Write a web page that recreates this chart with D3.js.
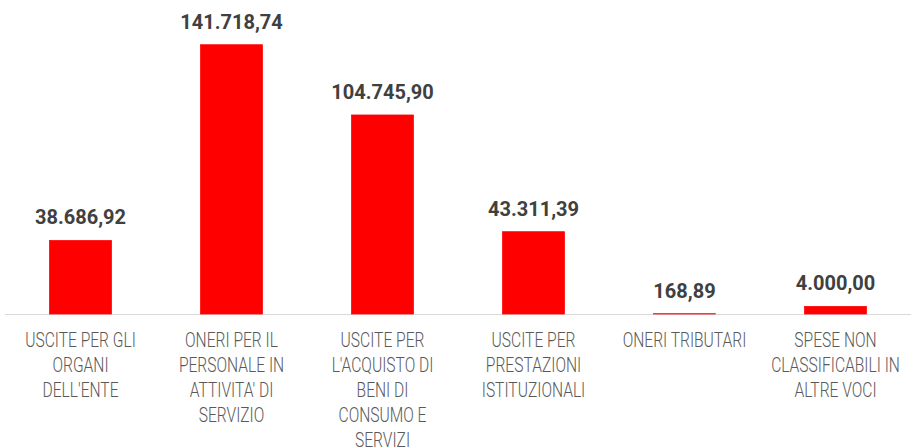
<!DOCTYPE html>
<html>
<head>
<meta charset="utf-8">
<script src="https://cdn.jsdelivr.net/npm/d3@7"></script>
<style>
  body { margin: 0; background: #fff; }
  .value { font-family: Roboto, "Noto Sans", sans-serif; font-weight: bold; font-size: 20px; fill: #404040; }
  .cat { font-family: Roboto, "Noto Sans", sans-serif; font-weight: 300; font-size: 19.5px; fill: #595959; }
</style>
</head>
<body>
<div id="chart"></div>
<script>
let width = 912;
let height = 448;

let categories = [
  "USCITE PER GLI ORGANI DELL'ENTE",
  "ONERI PER IL PERSONALE IN ATTIVITA' DI SERVIZIO",
  "USCITE PER L'ACQUISTO DI BENI DI CONSUMO E SERVIZI",
  "USCITE PER PRESTAZIONI ISTITUZIONALI",
  "ONERI TRIBUTARI",
  "SPESE NON CLASSIFICABILI IN ALTRE VOCI"
];
// category labels as they break in the original
let cat_lines = [
  ["USCITE PER GLI", "ORGANI", "DELL'ENTE"],
  ["ONERI PER IL", "PERSONALE IN", "ATTIVITA' DI", "SERVIZIO"],
  ["USCITE PER", "L'ACQUISTO DI", "BENI DI", "CONSUMO E", "SERVIZI"],
  ["USCITE PER", "PRESTAZIONI", "ISTITUZIONALI"],
  ["ONERI TRIBUTARI"],
  ["SPESE NON", "CLASSIFICABILI IN", "ALTRE VOCI"]
];
let values = [38686.92, 141718.74, 104745.90, 43311.39, 168.89, 4000.00];

let itFormat = d3.formatLocale({decimal: ",", thousands: ".", grouping: [3], currency: ["€", ""]}).format(",.2f");

let svg = d3.select("#chart").append("svg")
  .attr("width", width)
  .attr("height", height);

let x = d3.scaleBand()
  .domain(categories)
  .range([5, 911])
  .paddingInner(0.59)
  .paddingOuter(0.295);

let y = d3.scaleLinear()
  .domain([0, 160000])
  .range([314, 10]);

// baseline (under the bars)
svg.append("line")
  .attr("x1", 5).attr("x2", 911)
  .attr("y1", y(0) + 0.5).attr("y2", y(0) + 0.5)
  .attr("stroke", "#d9d9d9")
  .attr("stroke-width", 1);

// bars
svg.append("g")
  .selectAll("rect")
  .data(values)
  .enter().append("rect")
    .attr("x", (d, i) => x(categories[i]))
    .attr("y", d => y(d))
    .attr("width", x.bandwidth())
    .attr("height", d => y(0) - y(d))
    .attr("fill", "#ff0000")
    .attr("stroke", "#ff0000")
    .attr("stroke-width", 0.75);

// value labels
svg.append("g")
  .selectAll("text")
  .data(values)
  .enter().append("text")
    .attr("class", "value")
    .attr("x", (d, i) => x(categories[i]) + x.bandwidth() / 2)
    .attr("y", d => y(d) - 16)
    .attr("text-anchor", "middle")
    .text(d => itFormat(d));

// category labels, squeezed horizontally to look condensed
let sx = 0.8;
categories.forEach(function(c, i) {
  let cx = x(c) + x.bandwidth() / 2;
  svg.append("g")
    .attr("transform", "translate(" + cx + ",347) scale(" + sx + ",1)")
    .append("text")
    .attr("class", "cat")
    .attr("text-anchor", "middle")
    .selectAll("tspan")
    .data(cat_lines[i])
    .enter().append("tspan")
      .attr("x", 0)
      .attr("y", (d, j) => j * 25)
      .text(d => d);
});
</script>
</body>
</html>
